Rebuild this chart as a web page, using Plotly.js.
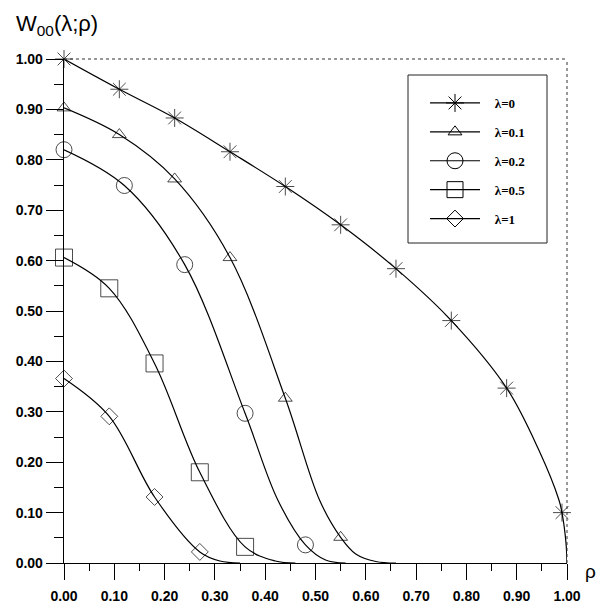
<!DOCTYPE html>
<html><head><meta charset="utf-8">
<script src="https://cdn.plot.ly/plotly-3.0.1.min.js"></script>
<style>html,body{margin:0;padding:0;background:#fff}#chart{width:603px;height:608px}</style>
</head><body><div id="chart"></div><script>
// Series labels
const seriesNames = ['λ=0', 'λ=0.1', 'λ=0.2', 'λ=0.5', 'λ=1'];

// Marker points
const markerRho_l0 = [0, 0.11, 0.22, 0.33, 0.44, 0.55, 0.66, 0.77, 0.88, 0.99];
const markerW_l0   = [1.00, 0.940, 0.883, 0.816, 0.747, 0.671, 0.584, 0.481, 0.347, 0.100];
const markerRho_l01 = [0, 0.11, 0.22, 0.33, 0.44, 0.55];
const markerW_l01   = [0.903, 0.850, 0.762, 0.606, 0.327, 0.051];
const markerRho_l02 = [0, 0.12, 0.24, 0.36, 0.48];
const markerW_l02   = [0.820, 0.749, 0.592, 0.297, 0.036];
const markerRho_l05 = [0, 0.09, 0.18, 0.27, 0.36];
const markerW_l05   = [0.606, 0.545, 0.396, 0.180, 0.032];
const markerRho_l1 = [0, 0.09, 0.18, 0.27];
const markerW_l1   = [0.366, 0.291, 0.131, 0.022];

// Extra curve points between / after the markers
const curveRho_l0 = [0.944, 0.984, 0.998, 1.0];
const curveW_l0   = [0.224, 0.125, 0.040, 0.0];
const curveRho_l01 = [0.508, 0.58, 0.62, 0.66];
const curveW_l01   = [0.125, 0.018, 0.003, 0.0];
const curveRho_l02 = [0.425, 0.52, 0.56];
const curveW_l02   = [0.125, 0.006, 0.0];
const curveRho_l05 = [0.42, 0.46];
const curveW_l05   = [0.004, 0.0];
const curveRho_l1 = [0.31, 0.35];
const curveW_l1   = [0.004, 0.0];

// Tick values
const tickVals = [0, 0.1, 0.2, 0.3, 0.4, 0.5, 0.6, 0.7, 0.8, 0.9, 1.0];

const series = [
  {name: seriesNames[0], mr: markerRho_l0,  mw: markerW_l0,  cr: curveRho_l0,  cw: curveW_l0,  sym: 'asterisk-open',    size: 15},
  {name: seriesNames[1], mr: markerRho_l01, mw: markerW_l01, cr: curveRho_l01, cw: curveW_l01, sym: 'triangle-up-open', size: 12},
  {name: seriesNames[2], mr: markerRho_l02, mw: markerW_l02, cr: curveRho_l02, cw: curveW_l02, sym: 'circle-open',      size: 16},
  {name: seriesNames[3], mr: markerRho_l05, mw: markerW_l05, cr: curveRho_l05, cw: curveW_l05, sym: 'square-open',      size: 17},
  {name: seriesNames[4], mr: markerRho_l1,  mw: markerW_l1,  cr: curveRho_l1,  cw: curveW_l1,  sym: 'diamond-open',     size: 13}
];

const traces = [];
series.forEach((s, i) => {
  const pts = [];
  s.mr.forEach((r, j) => pts.push({x: r, y: s.mw[j], m: true}));
  s.cr.forEach((r, j) => pts.push({x: r, y: s.cw[j], m: false}));
  pts.sort((a, b) => a.x - b.x);
  traces.push({
    type: 'scatter', mode: 'lines+markers', name: s.name, showlegend: false,
    legendgroup: 'g' + i,
    x: pts.map(p => p.x), y: pts.map(p => p.y),
    line: {color: '#000', width: 1.2, shape: 'spline', smoothing: 1},
    marker: {symbol: s.sym, size: pts.map(p => p.m ? s.size : 0), color: '#000',
             line: {color: '#000', width: 1}},
    cliponaxis: false, hoverinfo: 'skip'
  });
});
// legend entries (no data, only the key)
series.forEach((s, i) => {
  traces.push({
    type: 'scatter', mode: 'lines+markers', name: '\u00a0\u00a0\u00a0' + s.name, showlegend: true,
    legendgroup: 'g' + i, x: [null], y: [null],
    line: {color: '#000', width: 1.2},
    marker: {symbol: s.sym, size: s.size, color: '#000', line: {color: '#000', width: 1}},
    hoverinfo: 'skip'
  });
});

const tickFont = {family: 'Liberation Sans, Arial, sans-serif', size: 14, color: '#000', weight: 'bold'};

// pixel -> paper helpers (plot area 64..567 x 59..563)
const px = v => (v - 64) / 503;
const py = v => (563 - v) / 504;

const layout = {
  width: 603, height: 608,
  margin: {l: 64, r: 36, t: 59, b: 45, pad: 0},
  paper_bgcolor: '#fff', plot_bgcolor: '#fff',
  showlegend: true,
  legend: {
    x: px(425), y: py(88), xanchor: 'left', yanchor: 'top',
    bgcolor: 'rgba(0,0,0,0)', borderwidth: 0,
    font: {family: 'Liberation Serif, Times New Roman, serif', size: 13, color: '#000', weight: 'bold'},
    itemsizing: 'trace', itemwidth: 50, tracegroupgap: 9
  },
  xaxis: {
    range: [0, 1], tickvals: tickVals, tickformat: '.2f',
    ticks: 'outside', ticklen: 16, tickwidth: 1, tickcolor: '#000',
    showline: true, linecolor: '#000', linewidth: 1.3,
    showgrid: false, zeroline: false, fixedrange: true,
    minor: {dtick: 0.05, tick0: 0, ticks: 'outside', ticklen: 7, tickwidth: 1, tickcolor: '#000'},
    tickfont: tickFont, ticklabelstandoff: 4
  },
  yaxis: {
    range: [0, 1], tickvals: tickVals, tickformat: '.2f',
    ticks: 'outside', ticklen: 17, tickwidth: 1, tickcolor: '#000',
    showline: true, linecolor: '#000', linewidth: 1.3,
    showgrid: false, zeroline: false, fixedrange: true,
    minor: {dtick: 0.05, tick0: 0, ticks: 'outside', ticklen: 9, tickwidth: 1, tickcolor: '#000'},
    tickfont: tickFont, ticklabelstandoff: 0
  },
  shapes: [
    {type: 'line', xref: 'paper', yref: 'paper', x0: 0, x1: 1, y0: 1, y1: 1, line: {color: '#333', width: 1, dash: 'dot'}},
    {type: 'line', xref: 'paper', yref: 'paper', x0: 1, x1: 1, y0: 0, y1: 1, line: {color: '#333', width: 1, dash: 'dot'}},
    {type: 'rect', xref: 'paper', yref: 'paper', x0: px(408), x1: px(547), y0: py(243), y1: py(75), line: {color: '#222', width: 1}}
  ],
  annotations: [
    {text: 'W<sub>00</sub>(λ;ρ)', xref: 'paper', yref: 'paper', x: px(14), y: py(25), xanchor: 'left', yanchor: 'middle',
     showarrow: false, font: {family: 'Liberation Sans, Arial, sans-serif', size: 22, color: '#000'}},
    {text: 'ρ', xref: 'paper', yref: 'paper', x: px(590), y: py(571), xanchor: 'center', yanchor: 'middle',
     showarrow: false, font: {family: 'Liberation Sans, Arial, sans-serif', size: 19, color: '#000'}}
  ]
};

Plotly.newPlot('chart', traces, layout, {displayModeBar: false, staticPlot: true});
</script></body></html>
